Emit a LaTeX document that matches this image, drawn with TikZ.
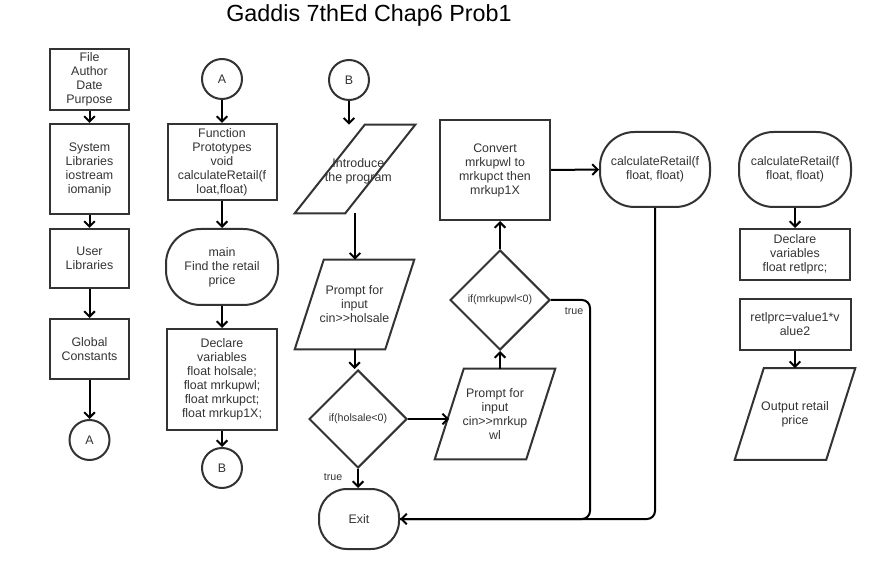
\documentclass[tikz,border=0pt]{standalone}
\usepackage{fontspec}
\setmainfont{Liberation Sans}
\usepackage{tikz}
\usetikzlibrary{shapes.geometric, arrows.meta}
\definecolor{mygray1}{RGB}{51, 51, 51}
\newcommand{\pgram}[2]{\draw[d0] (#1.south west) -- ([xshift = -#2]#1.south east) -- (#1.north east) -- ([xshift = #2]#1.north west) -- cycle;}

\begin{document}
\begin{tikzpicture}[
    x = 0.75pt, y = -0.75pt,
    every node/.style = {font = \fontsize{9.3}{10.5}\selectfont, text = mygray1, align = center, inner sep = 0pt},
    d0/.style = {draw = mygray1, line width = 1.5pt},
    b0/.style = {d0, rectangle},
    t0/.style = {d0, rounded corners = 26pt},
    c0/.style = {d0, circle, minimum size = 30pt},
    p0/.style = {rectangle, minimum width = 90pt},
    q0/.style = {d0, diamond, aspect = 1, font = \fontsize{8}{9}\selectfont},
    a0/.style = {line width = 1.5pt, -{Straight Barb[length = 4pt, width = 8pt]}},
    l0/.style = {font = \fontsize{8}{9}\selectfont},
]
\useasboundingbox (0,0) rectangle (875,570);

\node[font = \fontsize{17.5}{19}\selectfont, text = black] (ttl) at (369,15) {Gaddis 7thEd Chap6 Prob1};

\node[b0, minimum width = 59.25pt, minimum height = 45.75pt] (hdr) at (89.5,79.5) {File\\Author\\Date\\Purpose};
\node[b0, minimum width = 59.25pt, minimum height = 67.5pt] (syslib) at (89.5,169) {System\\Libraries\\iostream\\iomanip};
\node[b0, minimum width = 59.25pt, minimum height = 44.25pt] (usrlib) at (89.5,258.5) {User\\Libraries};
\node[b0, minimum width = 59.25pt, minimum height = 45pt] (glob) at (89.5,349) {Global\\Constants};
\node[c0] (conA1) at (89.5,440) {A};

\node[c0] (conA2) at (222,79) {A};
\node[b0, minimum width = 81.75pt, minimum height = 57pt] (proto) at (222,162) {Function\\Prototypes\\void\\calculateRetail(f\\loat,float)};
\node[t0, minimum width = 84pt, minimum height = 57pt] (mainT) at (222,267) {main\\Find the retail\\price};
\node[b0, minimum width = 82.5pt, minimum height = 75.75pt] (decl) at (222,379.5) {Declare\\variables\\float holsale;\\float mrkupwl;\\float mrkupct;\\float mrkup1X;};
\node[c0] (conB1) at (222,468) {B};

\node[c0] (conB2) at (349,80) {B};
\node[p0, minimum height = 66pt, label = {[xshift = 2.5pt, yshift = -1.5pt]center:{Introduce\\the program}}] (intro) at (355,169) {};
\pgram{intro}{52.5pt}
\node[p0, minimum width = 89.25pt, minimum height = 66.75pt] (pin1) at (354.5,304.5) {Prompt for\\input\\cin>{}>holsale};
\pgram{pin1}{21.75pt}
\node[q0, minimum size = 73.5pt] (dec1) at (358,419) {if(holsale<0)};
\node[t0, rounded corners = 21pt, minimum width = 60pt, minimum height = 45pt] (exitT) at (359,519) {Exit};
\node[p0, minimum height = 67.5pt] (pin2) at (495,414) {Prompt for\\input\\cin>{}>mrkup\\wl};
\pgram{pin2}{21.75pt}
\coordinate (pin2in) at ([xshift = 10.875pt]pin2.west);
\node[q0, minimum size = 75pt] (dec2) at (500,300) {if(mrkupwl<0)};
\node[b0, minimum width = 82.5pt, minimum height = 75pt] (conv) at (495,170) {Convert\\mrkupwl to\\mrkupct then\\mrkup1X};
\node[t0, minimum width = 82.5pt, minimum height = 56.25pt] (calc1) at (655,169.5) {calculateRetail(f\\float, float)};

\node[t0, minimum width = 84pt, minimum height = 56.25pt] (calc2) at (795,169.5) {calculateRetail(f\\float, float)};
\node[b0, minimum width = 82.5pt, minimum height = 38.25pt] (decl2) at (795,254.5) {Declare\\variables\\float retlprc;};
\node[b0, minimum width = 83.25pt, minimum height = 38.25pt] (calc3) at (795,324.5) {retlprc=value1*v\\alue2};
\node[p0, minimum height = 68.25pt] (outp) at (795,414) {Output retail\\price};
\pgram{outp}{21.75pt}

\node[l0] (tr1) at (333,477) {true};
\node[l0] (tr2) at (574,311) {true};
\coordinate (c1) at (590,300);

\draw[a0] (hdr) -- (syslib);
\draw[a0] (syslib) -- (usrlib);
\draw[a0] (usrlib) -- (glob);
\draw[a0] (glob) -- (conA1);

\draw[a0] (conA2) -- (proto);
\draw[a0] (proto) -- (mainT);
\draw[a0] (mainT) -- (decl);
\draw[a0] (decl) -- (conB1);

\draw[a0] (conB2.south) -- (conB2.south |- intro.north);
\draw[a0] (intro.south) -- (intro.south |- pin1.north);
\draw[a0] (pin1.south) -- (pin1.south |- dec1.north);
\draw[a0] (dec1.south) -- (dec1.south |- exitT.north);
\draw[a0] (dec1.east) -- (dec1.east -| pin2in);
\draw[a0] (dec2.south |- pin2.north) -- (dec2.south);
\draw[a0] (dec2.north) -- (dec2.north |- conv.south);
\draw[a0] (conv.east) -- (calc1.west);
\draw[line width = 1.5pt, rounded corners = 6pt] (dec2.east) -- (c1) -- (c1 |- exitT.east) -- (exitT.east);
\draw[a0, rounded corners = 6pt] (calc1.south) |- (exitT.east);

\draw[a0] (calc2) -- (decl2);
\draw[a0] (calc3.south) -- (calc3.south |- outp.north);

\end{tikzpicture}
\end{document}
